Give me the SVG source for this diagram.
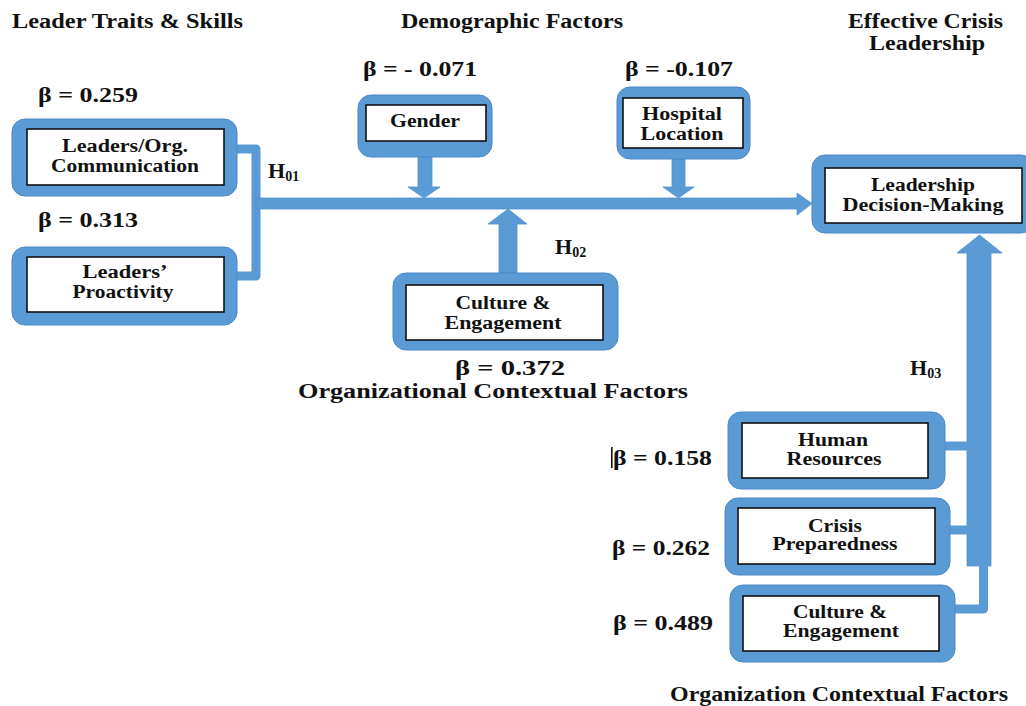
<svg xmlns="http://www.w3.org/2000/svg" width="1026" height="706" viewBox="0 0 1026 706">
<style>
text{font-family:"Liberation Serif","Times New Roman",serif;font-weight:bold;fill:#111;}
.t{font-size:20px;}
.b{font-size:22px;}
.n{font-size:18px;text-anchor:middle;}
.h{font-size:22px;}
.outer{fill:#5B9BD5;stroke:#4A88C6;stroke-width:1;}
.inner{fill:#fff;stroke:#111;stroke-width:1.6;}
.ln{fill:none;stroke:#5B9BD5;stroke-width:9;stroke-linejoin:round;}
.ar{fill:#5B9BD5;stroke:#4F8FCC;stroke-width:0.8;}
</style>
<rect width="1026" height="706" fill="#fff"/>

<!-- titles -->
<g id="titles">
<text class="t" x="12" y="28" textLength="231" lengthAdjust="spacingAndGlyphs">Leader Traits &amp; Skills</text>
<text class="t" x="401" y="28" textLength="222" lengthAdjust="spacingAndGlyphs">Demographic Factors</text>
<text class="t" x="848" y="28" textLength="155" lengthAdjust="spacingAndGlyphs">Effective Crisis</text>
<text class="t" x="869" y="50" textLength="116" lengthAdjust="spacingAndGlyphs">Leadership</text>
<text class="t" x="298" y="398" textLength="390" lengthAdjust="spacingAndGlyphs">Organizational Contextual Factors</text>
<text class="t" x="670" y="701" textLength="338" lengthAdjust="spacingAndGlyphs">Organization Contextual Factors</text>
</g>

<!-- beta labels -->
<g id="betas">
<text class="b" x="38" y="102" textLength="100" lengthAdjust="spacingAndGlyphs">β = 0.259</text>
<text class="b" x="38" y="227" textLength="100" lengthAdjust="spacingAndGlyphs">β = 0.313</text>
<text class="b" x="363" y="76" textLength="114" lengthAdjust="spacingAndGlyphs">β = - 0.071</text>
<text class="b" x="625" y="76" textLength="108" lengthAdjust="spacingAndGlyphs">β = -0.107</text>
<text class="b" x="455" y="375" textLength="110" lengthAdjust="spacingAndGlyphs">β = 0.372</text>
<rect x="611" y="447" width="1.6" height="21" fill="#111"/>
<text class="b" x="613" y="465" textLength="99" lengthAdjust="spacingAndGlyphs">β = 0.158</text>
<text class="b" x="612" y="555" textLength="98" lengthAdjust="spacingAndGlyphs">β = 0.262</text>
<text class="b" x="613" y="630" textLength="100" lengthAdjust="spacingAndGlyphs">β = 0.489</text>
</g>

<!-- hypothesis labels -->
<g id="hyp">
<text class="h" x="268" y="178">H<tspan font-size="14" dy="3">01</tspan></text>
<text class="h" x="555" y="254">H<tspan font-size="14" dy="3">02</tspan></text>
<text class="h" x="910" y="375">H<tspan font-size="14" dy="3">03</tspan></text>
</g>

<!-- connectors -->
<g id="connectors">
<path class="ln" d="M236,149 H256 V276 H236"/>
<polygon class="ar" points="256,198 797,198 797,193 812,203.5 797,215 797,209 256,209"/>
<polygon class="ar" points="418,157 432,157 432,187 440,187 424,198 408,187 418,187"/>
<polygon class="ar" points="672,159 685,159 685,187 694,187 678.5,198 663,187 672,187"/>
<polygon class="ar" points="499,273 517,273 517,224 527,224 508,209 488,224 499,224"/>
<polygon class="ar" points="967,566 991,566 991,253 1002,253 979.5,235 957,253 967,253"/>
<path class="ln" d="M944,446 H968"/>
<path class="ln" d="M949,530 H968"/>
<path class="ln" d="M954,609 H983.5 V564"/>
</g>

<!-- nodes -->
<g id="n-comm">
<rect class="outer" x="12" y="119" width="225" height="77" rx="13"/>
<rect class="inner" x="27" y="129" width="197" height="56"/>
<text class="n" x="125" y="152" textLength="126" lengthAdjust="spacingAndGlyphs">Leaders/Org.</text>
<text class="n" x="125" y="172" textLength="148" lengthAdjust="spacingAndGlyphs">Communication</text>
</g>
<g id="n-proact">
<rect class="outer" x="12" y="247" width="225" height="78" rx="13"/>
<rect class="inner" x="27" y="257" width="197" height="55"/>
<text class="n" x="125" y="278" textLength="85" lengthAdjust="spacingAndGlyphs">Leaders’</text>
<text class="n" x="123" y="298" textLength="101" lengthAdjust="spacingAndGlyphs">Proactivity</text>
</g>
<g id="n-gender">
<rect class="outer" x="358" y="95" width="134" height="62" rx="13"/>
<rect class="inner" x="366" y="105" width="120" height="36"/>
<text class="n" x="425" y="127" textLength="70" lengthAdjust="spacingAndGlyphs">Gender</text>
</g>
<g id="n-hospital">
<rect class="outer" x="617" y="87" width="133" height="72" rx="13"/>
<rect class="inner" x="623" y="98" width="120" height="50"/>
<text class="n" x="682" y="120" textLength="80" lengthAdjust="spacingAndGlyphs">Hospital</text>
<text class="n" x="682" y="140" textLength="83" lengthAdjust="spacingAndGlyphs">Location</text>
</g>
<g id="n-culture-mid">
<rect class="outer" x="393" y="273" width="225" height="77" rx="13"/>
<rect class="inner" x="406" y="285" width="197" height="55"/>
<text class="n" x="503" y="309" textLength="95" lengthAdjust="spacingAndGlyphs">Culture &amp;</text>
<text class="n" x="503" y="329" textLength="117" lengthAdjust="spacingAndGlyphs">Engagement</text>
</g>
<g id="n-decision">
<rect class="outer" x="812" y="155" width="222" height="78" rx="13"/>
<rect class="inner" x="825" y="168" width="197" height="55"/>
<text class="n" x="923" y="191" textLength="104" lengthAdjust="spacingAndGlyphs">Leadership</text>
<text class="n" x="923" y="211" textLength="161" lengthAdjust="spacingAndGlyphs">Decision-Making</text>
</g>
<g id="n-hr">
<rect class="outer" x="728" y="412" width="217" height="77" rx="13"/>
<rect class="inner" x="742" y="423" width="186" height="55"/>
<text class="n" x="833" y="446" textLength="70" lengthAdjust="spacingAndGlyphs">Human</text>
<text class="n" x="834" y="465" textLength="95" lengthAdjust="spacingAndGlyphs">Resources</text>
</g>
<g id="n-crisis">
<rect class="outer" x="725" y="498" width="225" height="77" rx="13"/>
<rect class="inner" x="738" y="508" width="197" height="56"/>
<text class="n" x="835" y="532" textLength="54" lengthAdjust="spacingAndGlyphs">Crisis</text>
<text class="n" x="835" y="550" textLength="125" lengthAdjust="spacingAndGlyphs">Preparedness</text>
</g>
<g id="n-culture-bot">
<rect class="outer" x="730" y="585" width="225" height="77" rx="13"/>
<rect class="inner" x="743" y="596" width="196" height="55"/>
<text class="n" x="840" y="618" textLength="94" lengthAdjust="spacingAndGlyphs">Culture &amp;</text>
<text class="n" x="841" y="637" textLength="116" lengthAdjust="spacingAndGlyphs">Engagement</text>
</g>
</svg>
